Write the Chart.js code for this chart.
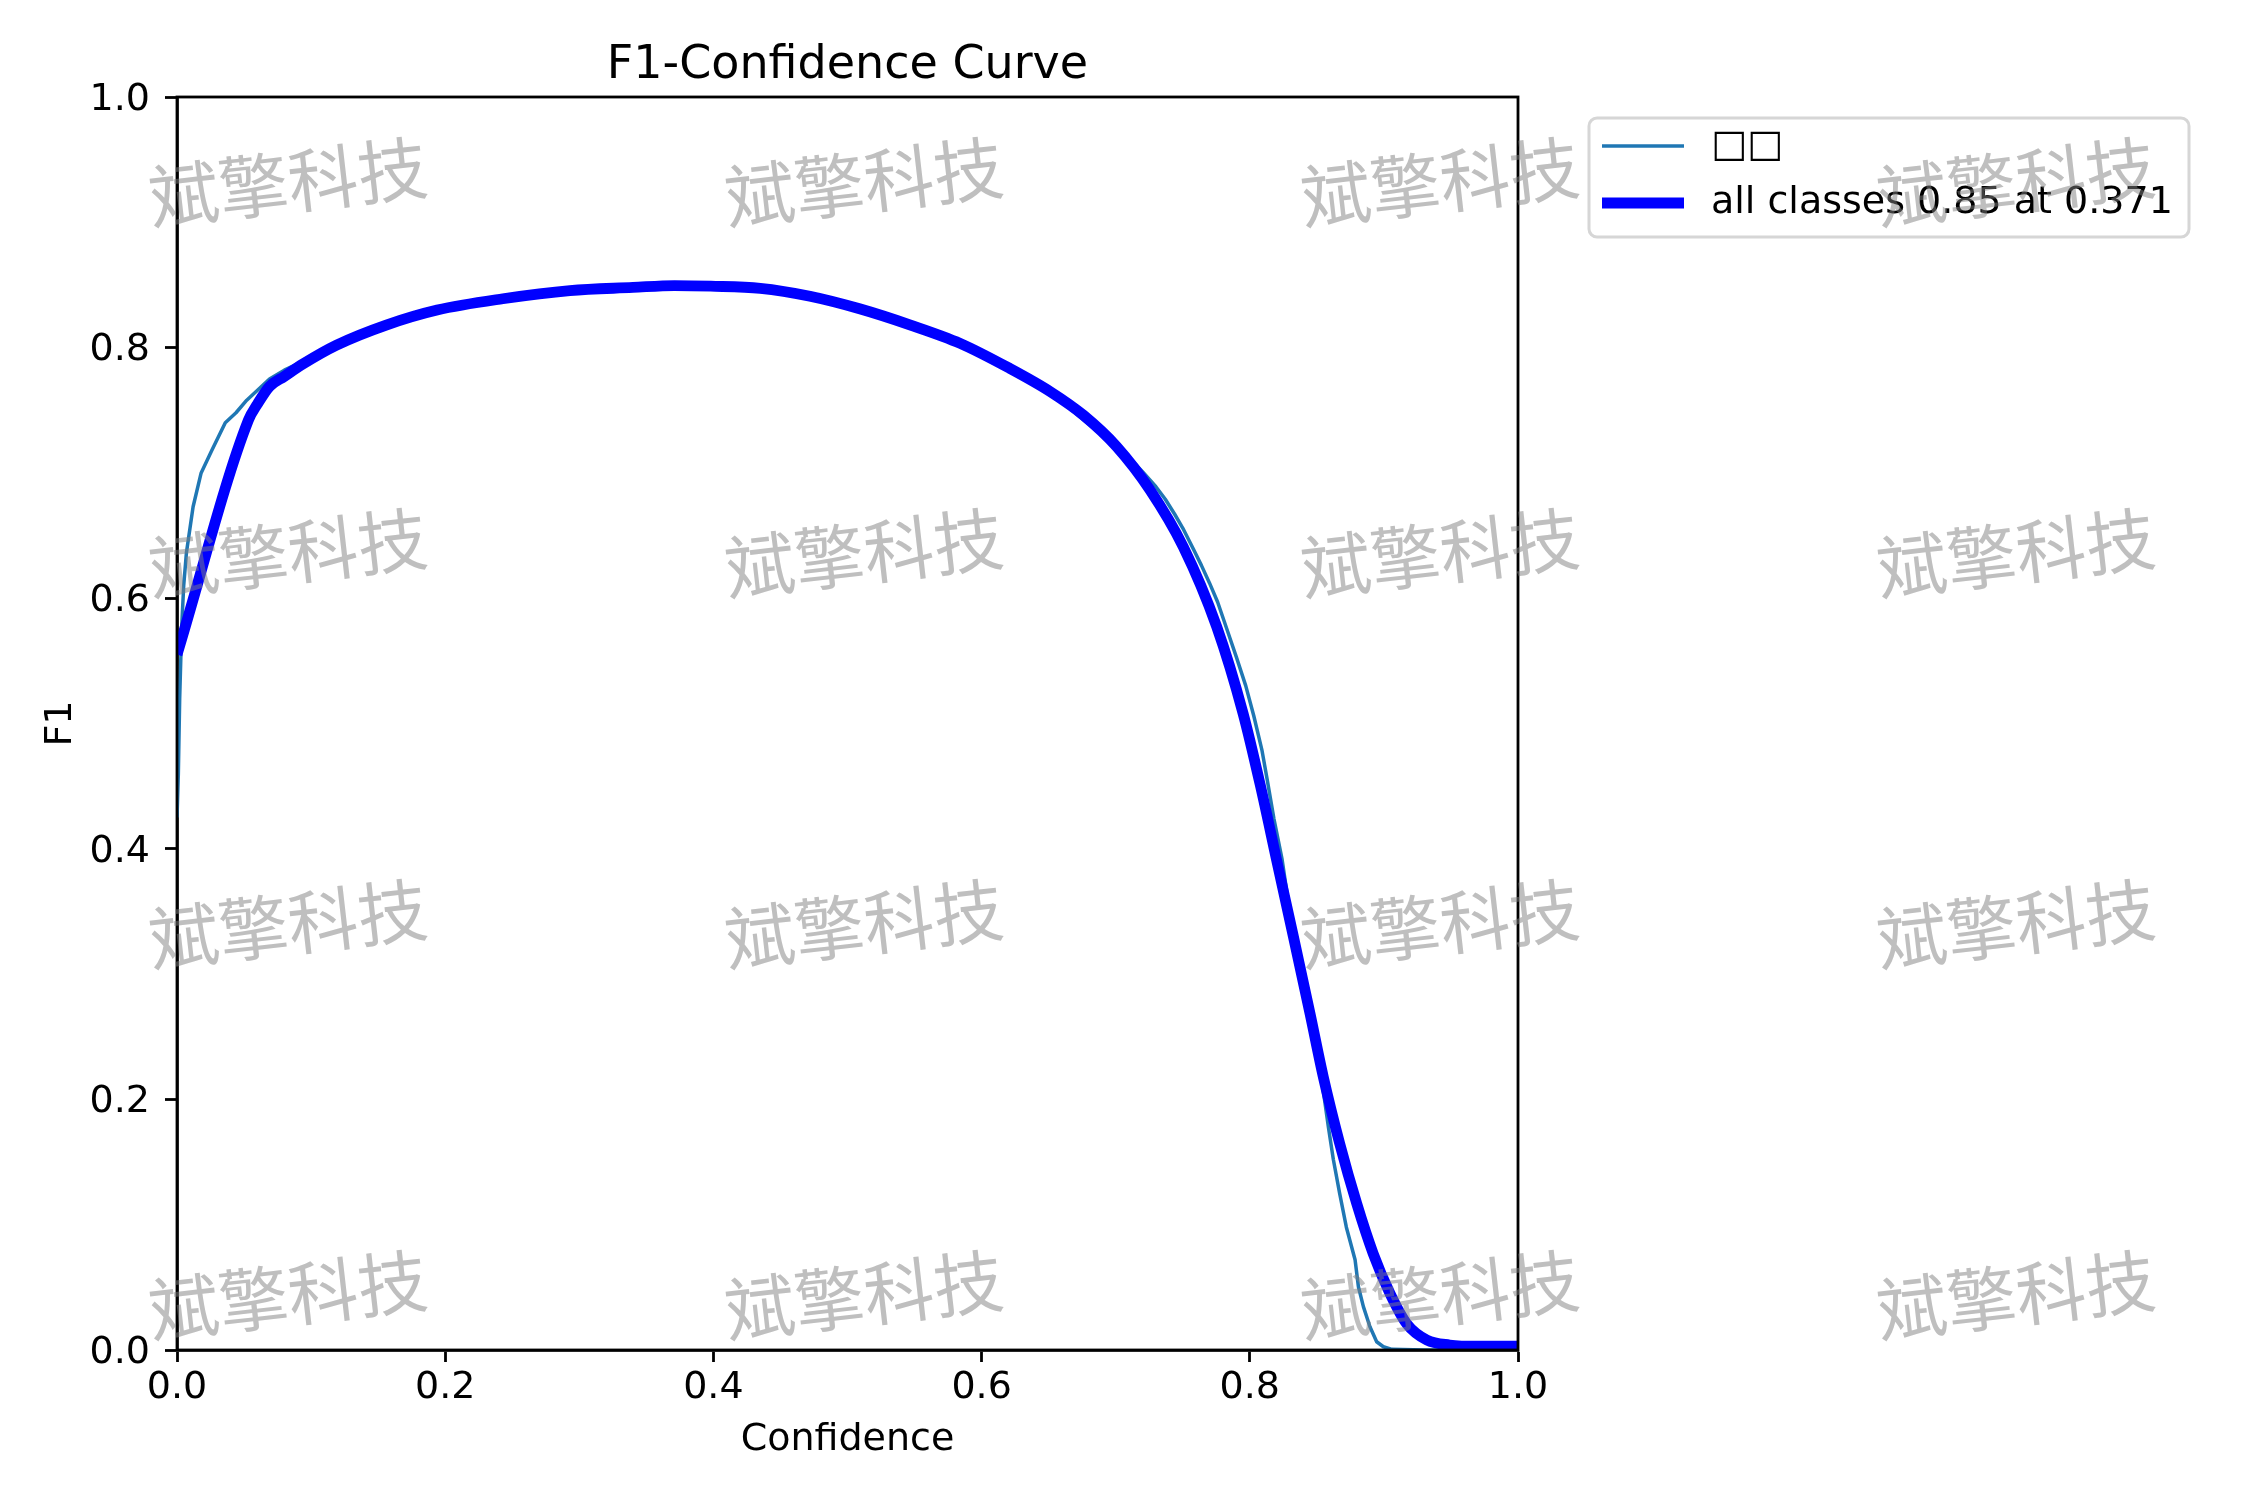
<!DOCTYPE html>
<html>
<head>
<meta charset="utf-8">
<script src="https://cdn.jsdelivr.net/npm/chart.js@4.4.1/dist/chart.umd.min.js"></script>
<style>
html,body{margin:0;padding:0;background:#fff;}
canvas{display:block;}
</style>
</head>
<body>
<canvas id="c" width="2250" height="1500"></canvas>
<script>
// ---- data ----
const chartTitle = 'F1-Confidence Curve';
const xLabel = 'Confidence';
const yLabel = 'F1';
const tickValues = [0, 0.2, 0.4, 0.6, 0.8, 1.0];
const watermarkText = '斌擎科技';

const classLabel = '□□';
const classConf = [0, 0.001, 0.002, 0.0035, 0.005, 0.007, 0.012, 0.018, 0.026, 0.036, 0.044, 0.052, 0.069, 0.080, 0.094, 0.119, 0.156, 0.194, 0.243, 0.293, 0.368, 0.398, 0.435, 0.472, 0.509, 0.547, 0.584, 0.621, 0.6585, 0.697, 0.706, 0.712, 0.720, 0.730, 0.737, 0.744, 0.750, 0.758, 0.764, 0.770, 0.776, 0.783, 0.790, 0.797, 0.803, 0.809, 0.813, 0.818, 0.824, 0.8325, 0.845, 0.852, 0.8586, 0.8623, 0.867, 0.872, 0.8785, 0.881, 0.8847, 0.8896, 0.8946, 0.8996, 0.906, 0.93, 1.0];
const classF1 = [0.425, 0.46, 0.52, 0.577, 0.61, 0.636, 0.673, 0.700, 0.718, 0.740, 0.748, 0.758, 0.775, 0.782, 0.789, 0.802, 0.818, 0.830, 0.839, 0.8455, 0.8486, 0.849, 0.8473, 0.841, 0.831, 0.818, 0.8034, 0.7834, 0.758, 0.7236, 0.716, 0.710, 0.701, 0.689, 0.679, 0.667, 0.656, 0.639, 0.626, 0.612, 0.597, 0.575, 0.553, 0.530, 0.506, 0.479, 0.455, 0.424, 0.392, 0.330, 0.268, 0.228, 0.178, 0.152, 0.125, 0.098, 0.072, 0.0505, 0.0346, 0.0186, 0.0066, 0.0026, 0.0005, 0, 0];

const allLabel = 'all classes 0.85 at 0.371';
const allConf = [0, 0.0532, 0.060, 0.069, 0.080, 0.094, 0.119, 0.156, 0.194, 0.243, 0.293, 0.340, 0.371, 0.398, 0.435, 0.472, 0.509, 0.547, 0.584, 0.621, 0.651, 0.676, 0.7007, 0.7256, 0.7504, 0.7753, 0.795, 0.808, 0.820, 0.8325, 0.845, 0.8548, 0.867, 0.8797, 0.892, 0.9046, 0.917, 0.932, 0.949, 0.97, 1.0];
const allF1 = [0.555, 0.742, 0.755, 0.769, 0.777, 0.787, 0.802, 0.818, 0.830, 0.839, 0.8455, 0.848, 0.8495, 0.849, 0.8473, 0.841, 0.831, 0.818, 0.8034, 0.7834, 0.765, 0.746, 0.721, 0.6864, 0.641, 0.5773, 0.508, 0.450, 0.391, 0.330, 0.268, 0.218, 0.165, 0.117, 0.077, 0.045, 0.021, 0.008, 0.004, 0.003, 0.003];

// ---- chart ----
Chart.defaults.font.family = '"DejaVu Sans", sans-serif';
Chart.defaults.color = '#000';

const toXY = (xs, ys) => xs.map((x, i) => ({x: x, y: ys[i]}));
const LABEL_PX = 38;
const TITLE_PX = 46;

const framePlugin = {
  id: 'frame',
  afterDatasetsDraw(chart) {
    const {ctx, chartArea: a} = chart;
    ctx.save();
    ctx.strokeStyle = '#000';
    ctx.lineWidth = 2.8;
    ctx.strokeRect(a.left, a.top, a.right - a.left, a.bottom - a.top);
    ctx.restore();
  }
};

const decorPlugin = {
  id: 'decor',
  afterDraw(chart) {
    const {ctx, chartArea: a} = chart;
    ctx.save();
    // title
    ctx.fillStyle = '#000';
    ctx.font = TITLE_PX + 'px "DejaVu Sans"';
    ctx.textAlign = 'center';
    ctx.textBaseline = 'alphabetic';
    ctx.fillText(chartTitle, (a.left + a.right) / 2, a.top - 19);

    // legend
    const lx = 1589, ly = 118, lw = 600, lh = 119, r = 8;
    ctx.beginPath();
    ctx.moveTo(lx + r, ly);
    ctx.arcTo(lx + lw, ly, lx + lw, ly + lh, r);
    ctx.arcTo(lx + lw, ly + lh, lx, ly + lh, r);
    ctx.arcTo(lx, ly + lh, lx, ly, r);
    ctx.arcTo(lx, ly, lx + lw, ly, r);
    ctx.closePath();
    ctx.fillStyle = 'rgba(255,255,255,0.8)';
    ctx.fill();
    ctx.strokeStyle = '#d6d6d6';
    ctx.lineWidth = 3;
    ctx.stroke();
    const rows = [146, 203];
    chart.data.datasets.forEach((ds, i) => {
      const y = rows[i];
      ctx.beginPath();
      ctx.moveTo(1602, y);
      ctx.lineTo(1684, y);
      ctx.strokeStyle = ds.borderColor;
      ctx.lineWidth = ds.borderWidth;
      ctx.lineCap = 'butt';
      ctx.stroke();
      ctx.fillStyle = '#000';
      ctx.font = LABEL_PX + 'px "DejaVu Sans"';
      ctx.textAlign = 'left';
      ctx.textBaseline = 'middle';
      ctx.fillText(ds.label, 1711, y);
    });

    // watermark grid
    const cols = [288, 864, 1440, 2016];
    const wrows = [182, 553, 924, 1295];
    ctx.font = '70px "Noto Sans CJK SC"';
    ctx.fillStyle = 'rgba(128,128,128,0.5)';
    ctx.textAlign = 'center';
    ctx.textBaseline = 'middle';
    wrows.forEach(wy => cols.forEach(wx => {
      ctx.save();
      ctx.translate(wx, wy);
      ctx.rotate(-6.5 * Math.PI / 180);
      ctx.fillText(watermarkText, 0, 0);
      ctx.restore();
    }));
    ctx.restore();
  }
};

const axisCommon = {
  type: 'linear',
  min: 0,
  max: 1,
  afterBuildTicks(scale) { scale.ticks = tickValues.map(v => ({value: v})); },
  grid: {
    display: true,
    drawOnChartArea: false,
    drawTicks: true,
    tickLength: 12,
    tickColor: '#000',
    tickWidth: 2.8
  },
  border: {display: true, color: '#000', width: 2.8}
};

new Chart(document.getElementById('c'), {
  type: 'line',
  data: {
    datasets: [
      {
        label: classLabel,
        data: toXY(classConf, classF1),
        borderColor: '#1f77b4',
        borderWidth: 3.5,
        pointRadius: 0,
        tension: 0,
        borderJoinStyle: 'round',
        fill: false,
        order: 2
      },
      {
        label: allLabel,
        data: toXY(allConf, allF1),
        borderColor: '#0000ff',
        borderWidth: 10.8,
        pointRadius: 0,
        cubicInterpolationMode: 'monotone',
        borderJoinStyle: 'round',
        fill: false,
        order: 1
      }
    ]
  },
  options: {
    responsive: false,
    animation: false,
    devicePixelRatio: 1,
    layout: {padding: {left: 0, top: 97, right: 732, bottom: 0}},
    plugins: {legend: {display: false}, title: {display: false}, tooltip: {enabled: false}},
    scales: {
      x: Object.assign({}, axisCommon, {
        position: 'bottom',
        afterFit(scale) { scale.height = 150; },
        ticks: {font: {size: LABEL_PX}, padding: 3, maxRotation: 0, autoSkip: false,
                callback: v => Number(v).toFixed(1)},
        title: {display: true, text: xLabel, font: {size: LABEL_PX}, padding: {top: 0, bottom: 37}}
      }),
      y: Object.assign({}, axisCommon, {
        position: 'left',
        afterFit(scale) { scale.width = 177; },
        ticks: {font: {size: LABEL_PX}, padding: 15, labelOffset: 3, autoSkip: false,
                callback: v => Number(v).toFixed(1)},
        title: {display: true, text: yLabel, font: {size: LABEL_PX}, padding: {top: 38, bottom: 0}}
      })
    }
  },
  plugins: [framePlugin, decorPlugin]
});
</script>
</body>
</html>
